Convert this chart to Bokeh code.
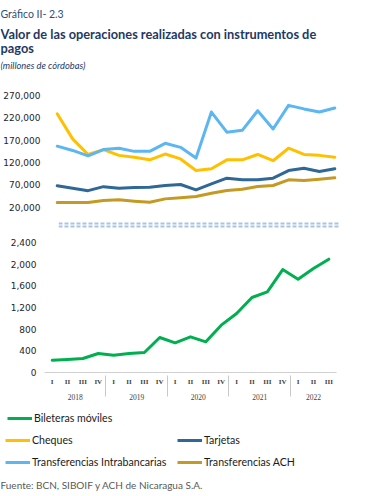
from bokeh.plotting import figure
from bokeh.models import (Range1d, FactorRange, FixedTicker, NumeralTickFormatter,
                          Label, Legend, LegendItem, Span)
from bokeh.layouts import column
from bokeh.embed import file_html
from bokeh.resources import INLINE

# ---------------- data ----------------
years = ["2018", "2019", "2020", "2021", "2022"]
quarters = [["I", "II", "III", "IV"], ["I", "II", "III", "IV"], ["I", "II", "III", "IV"],
            ["I", "II", "III", "IV"], ["I", "II", "III"]]

billeteras = [228, 240, 258, 350, 320, 350, 370, 646, 548, 658, 566, 874, 1089, 1385, 1490,
              1900, 1723, 1920, 2092]
cheques = [229000, 173000, 138000, 149000, 136000, 132000, 126000, 139000, 128000, 102000,
           106000, 126000, 126000, 138000, 124000, 152000, 138000, 136000, 132000]
tarjetas = [67800, 62500, 57000, 66000, 62500, 64000, 64800, 68500, 70700, 58800, 72000,
            85000, 81200, 81200, 85000, 102000, 107000, 100000, 106000]
intrabancarias = [156600, 147000, 135000, 149000, 152000, 145000, 145000, 163000, 154000,
                  130000, 233000, 188000, 192000, 236000, 195000, 248000, 240000, 233000, 242000]
ach = [30400, 30400, 30400, 35000, 36400, 33500, 31200, 38600, 41000, 44000, 51300, 57300,
       60300, 66300, 68500, 81200, 79700, 82700, 85700]

top_ticks = [20000, 70000, 120000, 170000, 220000, 270000]
bottom_ticks = [0, 400, 800, 1200, 1600, 2000, 2400]

factors = [(y, q) for y, qs in zip(years, quarters) for q in qs]

GREEN = "#00b050"
YELLOW = "#ffc000"
DARKBLUE = "#2f6797"
LIGHTBLUE = "#5cb6f2"
GOLD = "#c49a22"
NAVY = "#1f3864"
TICK_FONT = "DejaVu Sans"
TEXT_FONT = "Lato"

W = 356


def bare(fig):
    fig.xgrid.visible = False
    fig.ygrid.visible = False
    return fig


def lbl(x, y, text, size, style="normal", color=NAVY):
    return Label(x=x, y=y, x_units="screen", y_units="screen", text=text,
                 text_font=TEXT_FONT, text_font_size=size, text_font_style=style,
                 text_color=color, text_baseline="alphabetic")


# ---------------- header ----------------
hdr = bare(figure(width=W, height=84, output_backend="svg", toolbar_location=None,
                  x_axis_location=None, y_axis_location=None, min_border_left=0,
                  min_border_right=0, min_border_top=0, min_border_bottom=0,
                  outline_line_color=None, frame_align=False))
hdr.add_layout(lbl(0, 71, "Gráfico II- 2.3", "10.5px", color="#2b4f7a"))
hdr.add_layout(lbl(0, 51, "Valor de las operaciones realizadas con instrumentos de",
                   "12.8px", "bold"))
hdr.add_layout(lbl(0, 37, "pagos", "12.8px", "bold"))
hdr.add_layout(lbl(0, 19, "(millones de córdobas)", "9.3px", "italic"))

# ---------------- top panel ----------------
top = bare(figure(width=W, height=130, x_range=FactorRange(*factors, group_padding=0),
                  y_range=Range1d(8100, 285700), output_backend="svg", toolbar_location=None,
                  x_axis_location=None, min_border_left=49, min_border_right=14,
                  min_border_top=4, min_border_bottom=2, outline_line_color=None,
                  frame_align=False))
top.yaxis.ticker = FixedTicker(ticks=top_ticks)
top.yaxis.formatter = NumeralTickFormatter(format="0,0")

for s, c in [(ach, GOLD), (tarjetas, DARKBLUE), (cheques, YELLOW), (intrabancarias, LIGHTBLUE)]:
    top.line(x=factors, y=s, line_color=c, line_width=3, line_join="round", line_cap="round")

# ---------------- break marks ----------------
brk = bare(figure(width=W, height=16, x_range=Range1d(0, 1), y_range=Range1d(0, 16),
                  output_backend="svg", toolbar_location=None, x_axis_location=None,
                  y_axis_location=None, min_border_left=58, min_border_right=17,
                  min_border_top=0, min_border_bottom=0, outline_line_color=None,
                  frame_align=False))
for loc in (7, 4):
    brk.add_layout(Span(location=loc, dimension="width", line_color="#a9c4de",
                        line_width=2, line_dash="4 2"))

# ---------------- bottom panel ----------------
bot = bare(figure(width=W, height=174, x_range=FactorRange(*factors, group_padding=0),
                  y_range=Range1d(0, 2548), output_backend="svg", toolbar_location=None,
                  min_border_left=44, min_border_right=20, min_border_top=4,
                  min_border_bottom=32, outline_line_color=None, frame_align=False))
bot.yaxis.ticker = FixedTicker(ticks=bottom_ticks)
bot.yaxis.formatter = NumeralTickFormatter(format="0,0")
bot.line(x=factors, y=billeteras, line_color=GREEN, line_width=3, line_join="round",
         line_cap="round")

bot.xaxis.axis_line_color = "#d0d0d0"
bot.xaxis.major_tick_line_color = None
bot.xaxis.minor_tick_line_color = None
bot.xaxis.major_tick_out = 0
bot.xaxis.separator_line_color = "#c8c8c8"
bot.xaxis.separator_line_width = 1
bot.xaxis.major_label_text_font = "Liberation Serif"
bot.xaxis.major_label_text_font_size = "7px"
bot.xaxis.major_label_text_font_style = "bold"
bot.xaxis.major_label_text_color = "#404040"
bot.xaxis.group_text_font = "Liberation Serif"
bot.xaxis.group_text_font_size = "7.5px"
bot.xaxis.group_text_font_style = "normal"
bot.xaxis.group_text_color = "#404040"
bot.xaxis.major_label_standoff = 5

for ax in (top.yaxis, bot.yaxis):
    ax.axis_line_color = None
    ax.major_tick_line_color = None
    ax.minor_tick_line_color = None
    ax.major_tick_out = 0
    ax.major_tick_in = 0
    ax.major_label_text_font = TICK_FONT
    ax.major_label_text_font_size = "9px"
    ax.major_label_text_color = "#262626"
top.yaxis.major_label_standoff = 9
bot.yaxis.major_label_standoff = 8

# ---------------- legend ----------------
leg = bare(figure(width=W, height=88, output_backend="svg", toolbar_location=None,
                  x_axis_location=None, y_axis_location=None, min_border_left=0,
                  min_border_right=0, min_border_top=0, min_border_bottom=0,
                  outline_line_color=None, frame_align=False))
nan = [float("nan")]
r_g = leg.line(x=nan, y=nan, line_color=GREEN, line_width=3)
r_c = leg.line(x=nan, y=nan, line_color=YELLOW, line_width=3)
r_t = leg.line(x=nan, y=nan, line_color=DARKBLUE, line_width=3)
r_i = leg.line(x=nan, y=nan, line_color=LIGHTBLUE, line_width=3)
r_a = leg.line(x=nan, y=nan, line_color=GOLD, line_width=3)

common = dict(padding=0, margin=0, border_line_color=None, background_fill_alpha=0,
              glyph_width=25, glyph_height=12, label_height=12, label_standoff=2,
              label_text_font=TEXT_FONT, label_text_font_size="10.6px",
              label_text_color="#1a1a1a", spacing=10)
leg1 = Legend(items=[LegendItem(label="Bileteras móviles", renderers=[r_g])],
              location=(7, 68), **common)
leg2 = Legend(items=[LegendItem(label="Cheques", renderers=[r_c]),
                     LegendItem(label="Tarjetas", renderers=[r_t]),
                     LegendItem(label="Transferencias Intrabancarias", renderers=[r_i]),
                     LegendItem(label="Transferencias ACH", renderers=[r_a])],
              location=(5, 24), orientation="horizontal", ncols=2, label_width=135,
              **common)
leg.add_layout(leg1)
leg.add_layout(leg2)
leg.add_layout(lbl(0, 8, "Fuente: BCN, SIBOIF y ACH de Nicaragua S.A.", "10px",
                   color="#595959"))

layout = column(hdr, top, brk, bot, leg, spacing=0)
open("out.html", "w").write(file_html(layout, INLINE))
